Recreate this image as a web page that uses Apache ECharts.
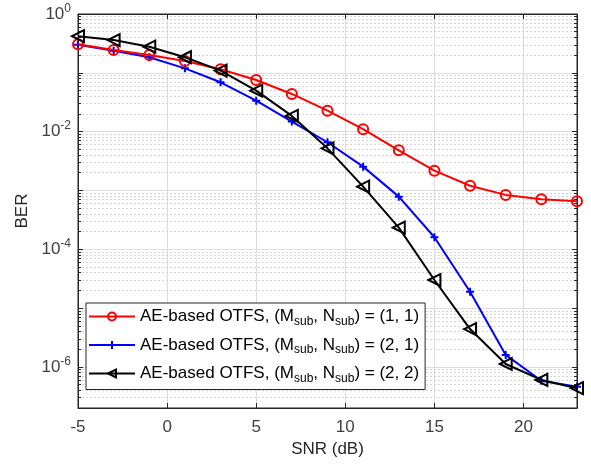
<!DOCTYPE html>
<html>
<head>
<meta charset="utf-8">
<script src="https://cdn.jsdelivr.net/npm/echarts@6/dist/echarts.min.js"></script>
<style>
html, body { margin: 0; padding: 0; background: #fff; }
#main { width: 591px; height: 465px; }
</style>
</head>
<body>
<div id="main"></div>
<script>
// SNR points (dB)
var snr = [-5, -3, -1, 1, 3, 5, 7, 9, 11, 13, 15, 17, 19, 21, 23];
// BER, (Msub, Nsub) = (1, 1)
var ber11 = [0.305, 0.244, 0.2, 0.159, 0.115, 0.0755, 0.0437, 0.0227, 0.011, 0.00482, 0.00217, 0.0012, 8.4e-4, 7.1e-4, 6.55e-4];
// BER, (Msub, Nsub) = (2, 1)
var ber21 = [0.3, 0.238, 0.184, 0.119, 0.069, 0.0336, 0.0148, 0.0066, 0.00254, 7.85e-4, 1.6e-4, 1.9e-5, 1.6e-6, 5.8e-7, 4.6e-7];
// BER, (Msub, Nsub) = (2, 2)
var ber22 = [0.42, 0.36, 0.278, 0.184, 0.109, 0.0497, 0.0185, 0.0052, 0.00116, 2.33e-4, 3.0e-5, 4.4e-6, 1.12e-6, 6.0e-7, 4.35e-7];
var xTicks = [-5, 0, 5, 10, 15, 20];
var yLabelExps = [0, -2, -4, -6];
var names = [
    'AE-based OTFS, (M{sub|sub}, N{sub|sub}) = (1, 1)',
    'AE-based OTFS, (M{sub|sub}, N{sub|sub}) = (2, 1)',
    'AE-based OTFS, (M{sub|sub}, N{sub|sub}) = (2, 2)'
];

var X_MIN = -5, X_MAX = 23, Y_MIN = 2e-7, Y_MAX = 1;

var chart = echarts.init(document.getElementById('main'));

function pairs(ys) {
    return snr.map(function (x, i) { return [x, ys[i]]; });
}

// minor values 2..9 x 10^k inside the y range
var minorVals = [];
for (var k = -7; k < 0; k++) {
    for (var m = 2; m <= 9; m++) {
        var v = m * Math.pow(10, k);
        if (v > Y_MIN * 1.0001 && v < Y_MAX) minorVals.push(v);
    }
}
// dotted grid lines + small ticks on left and right axis
var minorLines = minorVals.map(function (v) {
    return [{ coord: [X_MIN, v] }, { coord: [X_MAX, v] }];
});
var tickLen = 0.17;
var minorTicks = [];
minorVals.forEach(function (v) {
    minorTicks.push([{ coord: [X_MIN, v] }, { coord: [X_MIN + tickLen, v] }]);
    minorTicks.push([{ coord: [X_MAX - tickLen, v] }, { coord: [X_MAX, v] }]);
});

var font = 'Liberation Sans, Arial, sans-serif';
var FS = 17;

var option = {
    animation: false,
    backgroundColor: '#fff',
    grid: {
        left: 78, right: 14, top: 14, bottom: 57,
        show: true, borderColor: '#262626', borderWidth: 1
    },
    legend: {
        orient: 'vertical',
        left: 86, top: 303, z: 50,
        padding: [5, 6, 5, 2],
        itemWidth: 46, itemHeight: 10, itemGap: 9,
        backgroundColor: '#fff',
        borderColor: '#262626', borderWidth: 1, borderRadius: 0,
        data: names,
        textStyle: {
            fontFamily: font, fontSize: FS, color: '#000',
            rich: {
                sub: { fontFamily: font, fontSize: 12, padding: [10, 0, 0, 0], color: '#000' }
            }
        }
    },
    xAxis: [{
        type: 'value', min: X_MIN, max: X_MAX, interval: 5,
        name: 'SNR (dB)', nameLocation: 'middle', nameGap: 24,
        nameTextStyle: { fontFamily: font, fontSize: FS, color: '#262626' },
        axisLine: { onZero: false, lineStyle: { color: '#262626' } },
        axisTick: { inside: true, length: 5, lineStyle: { color: '#262626' } },
        axisLabel: {
            fontFamily: font, fontSize: FS, color: '#404040', margin: 11,
            showMaxLabel: false,
            formatter: function (v) { return xTicks.indexOf(v) >= 0 ? String(v) : ''; }
        },
        splitLine: { show: true, lineStyle: { color: '#dcdcdc', width: 1 } }
    }, {
        type: 'value', min: X_MIN, max: X_MAX, interval: 5, position: 'top',
        axisLine: { onZero: false, lineStyle: { color: '#262626' } },
        axisTick: { inside: true, length: 5, lineStyle: { color: '#262626' } },
        axisLabel: { show: false },
        splitLine: { show: false }
    }],
    yAxis: [{
        type: 'log', logBase: 10, min: Y_MIN, max: Y_MAX, splitNumber: 7,
        name: 'BER', nameLocation: 'middle', nameGap: 47,
        nameTextStyle: { fontFamily: font, fontSize: FS, color: '#262626' },
        axisLine: { onZero: false, lineStyle: { color: '#262626' } },
        axisTick: { inside: true, length: 5, lineStyle: { color: '#262626' } },
        axisLabel: {
            fontFamily: font, fontSize: FS, color: '#404040', margin: 7,
            formatter: function (v) {
                var e = Math.round(Math.log10(v));
                if (Math.abs(Math.log10(v) - e) > 1e-6) return '';
                if (yLabelExps.indexOf(e) < 0) return '';
                return '10{sup|' + e + '}';
            },
            rich: {
                sup: { fontFamily: font, fontSize: 12, color: '#404040', padding: [0, 0, 11, 0] }
            }
        },
        splitLine: { show: true, lineStyle: { color: '#dcdcdc', width: 1 } }
    }, {
        type: 'log', logBase: 10, min: Y_MIN, max: Y_MAX, splitNumber: 7, position: 'right',
        axisLine: { onZero: false, lineStyle: { color: '#262626' } },
        axisTick: { inside: true, length: 5, lineStyle: { color: '#262626' } },
        axisLabel: { show: false },
        splitLine: { show: false }
    }],
    series: [
        {
            name: 'minor-grid', type: 'line', data: [], silent: true, z: 0,
            markLine: {
                silent: true, z: 0, symbol: ['none', 'none'], label: { show: false },
                lineStyle: { color: '#d4d4d4', type: [2, 2], width: 1 },
                data: minorLines
            }
        },
        {
            name: 'minor-ticks', type: 'line', data: [], silent: true, z: 1,
            markLine: {
                silent: true, z: 1, symbol: ['none', 'none'], label: { show: false },
                lineStyle: { color: '#262626', type: 'solid', width: 1 },
                data: minorTicks
            }
        },
        {
            name: names[0], type: 'line', data: pairs(ber11), z: 5,
            symbol: 'circle', symbolSize: 10,
            lineStyle: { color: '#ff0000', width: 2 },
            itemStyle: { color: 'rgba(0,0,0,0)', borderColor: '#ff0000', borderWidth: 2 }
        },
        {
            name: names[1], type: 'line', data: pairs(ber21), z: 4,
            symbol: 'path://M5,0 L5,10 M0,5 L10,5', symbolSize: 8,
            lineStyle: { color: '#0000ff', width: 2 },
            itemStyle: { color: '#0000ff', borderColor: '#0000ff', borderWidth: 2 }
        },
        {
            name: names[2], type: 'line', data: pairs(ber22), z: 6,
            symbol: 'triangle', symbolSize: 12, symbolRotate: 90,
            lineStyle: { color: '#000000', width: 2 },
            itemStyle: { color: 'rgba(0,0,0,0)', borderColor: '#000000', borderWidth: 2 }
        }
    ]
};

chart.setOption(option);
</script>
</body>
</html>
